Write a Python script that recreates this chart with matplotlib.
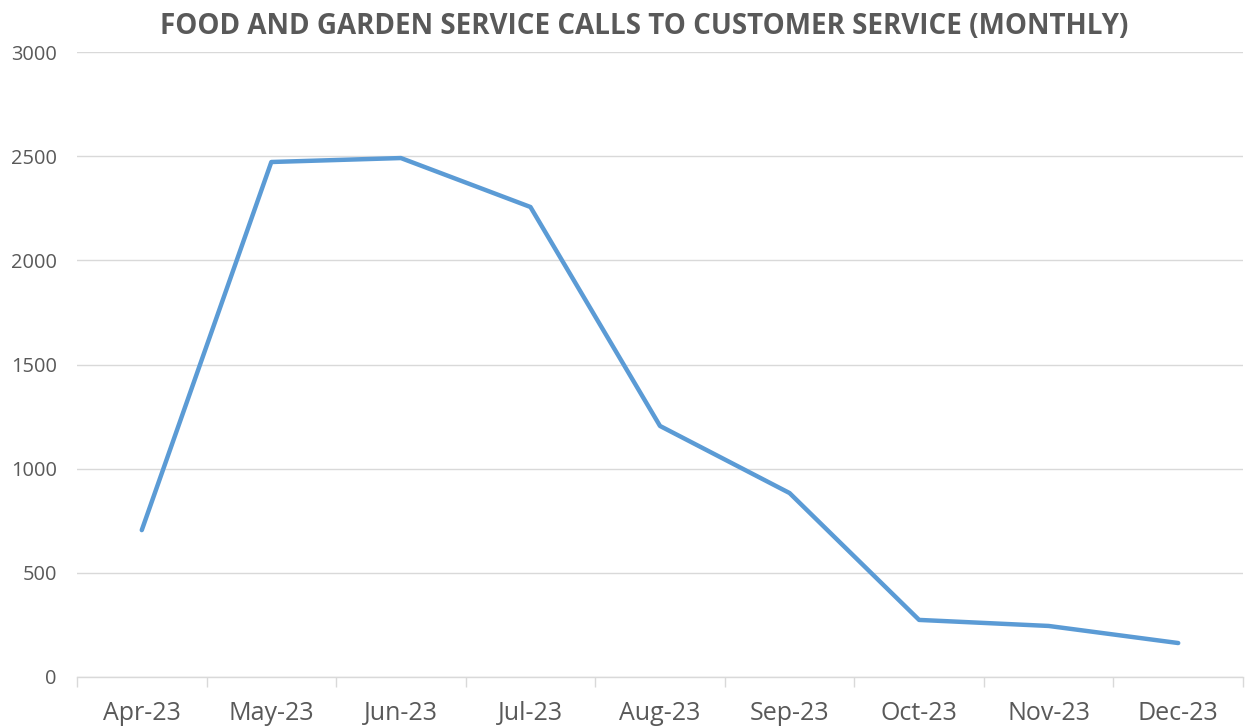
import matplotlib.pyplot as plt
import numpy as np

months = ["Apr-23", "May-23", "Jun-23", "Jul-23", "Aug-23",
          "Sep-23", "Oct-23", "Nov-23", "Dec-23"]
calls = [705, 2472, 2491, 2256, 1205, 883, 274, 245, 163]
y_ticks = [0, 500, 1000, 1500, 2000, 2500, 3000]

plt.rcParams['font.family'] = ['Open Sans', 'DejaVu Sans']
grey = "#595959"

fig = plt.figure(figsize=(12.48, 7.27), dpi=100)
ax = fig.add_axes([77 / 1248, 1 - 677 / 727, (1243 - 77) / 1248, (677 - 52) / 727])

x = np.arange(len(months))
ax.plot(x, calls, color="#5B9BD5", linewidth=3.2, solid_capstyle="round",
        solid_joinstyle="round", zorder=3)

ax.set_xlim(-0.5, len(months) - 0.5)
ax.set_ylim(0, 3000)
ax.set_yticks(y_ticks)
ax.set_yticklabels([str(v) for v in y_ticks])
ax.set_xticks(x)
ax.set_xticklabels(months)
ax.set_xticks(np.arange(len(months) + 1) - 0.5, minor=True)

ax.grid(axis="y", color="#D9D9D9", linewidth=1)
ax.set_axisbelow(True)
for side in ["top", "right", "left"]:
    ax.spines[side].set_visible(False)
ax.spines["bottom"].set_color("#D9D9D9")
ax.spines["bottom"].set_linewidth(1)

ax.tick_params(axis="y", length=0, pad=14.5, labelsize=14.4, labelcolor=grey)
ax.tick_params(axis="x", which="major", length=0, pad=17, labelsize=18, labelcolor=grey)
ax.tick_params(axis="x", which="minor", length=7, width=1, color="#D9D9D9")

fig.text(644 / 1248, 1 - 26 / 727, "FOOD AND GARDEN SERVICE CALLS TO CUSTOMER SERVICE (MONTHLY)",
         ha="center", va="center", fontsize=20, fontweight="bold", color=grey)

fig.savefig("out.png", dpi=100)
